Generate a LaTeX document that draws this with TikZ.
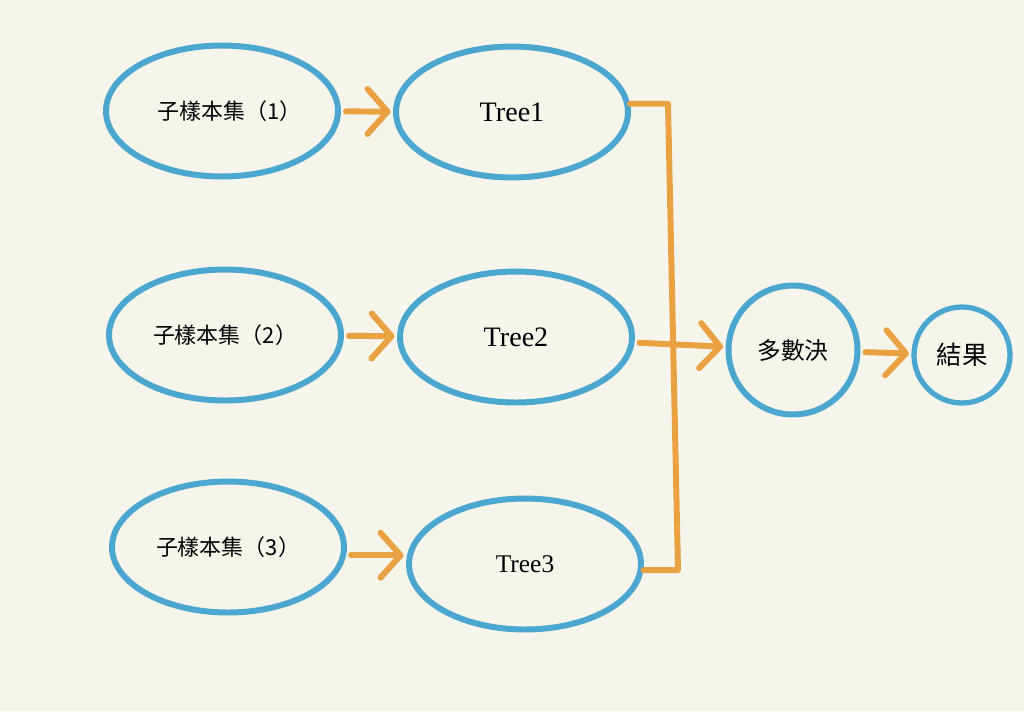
\documentclass[tikz,border=0pt]{standalone}
\usepackage{fontspec}
\setmainfont{Liberation Serif}
\newfontfamily\cjk{Noto Sans CJK TC}
\usetikzlibrary{shapes.geometric,arrows.meta}
\definecolor{ringblue}{RGB}{75,166,208}
\definecolor{arrorange}{RGB}{233,161,66}
\definecolor{paper}{RGB}{245,245,235}
\tikzset{
    oval/.style={ellipse,draw=ringblue,line width=3.4pt,minimum width=4.64cm,minimum height=2.62cm,inner sep=0pt},
    ring/.style={circle,draw=ringblue,line width=3.4pt,inner sep=0pt},
    sample/.style={oval,font=\cjk\fontsize{12.5}{15}\selectfont},
    tree/.style={oval,font=\fontsize{16}{19}\selectfont},
    flow/.style={draw=arrorange,line width=3.4pt,line cap=round,shorten <=0.1cm,shorten >=0.05cm,-{Straight Barb[length=0.4cm,width=0.9cm,round]}},
    link/.style={draw=arrorange,line width=3.4pt,line cap=round,line join=round}
}
\begin{document}
\begin{tikzpicture}[x=0.02cm,y=-0.02cm]
    \fill[paper] (0,0) rectangle (1024,711);
    \useasboundingbox (0,0) rectangle (1024,711);
    \node[sample] (s1) at (222,111) {\hspace{0.3cm}子樣本集（1）};
    \node[sample] (s2) at (225,335) {子樣本集（2）};
    \node[sample] (s3) at (228,547) {子樣本集（3）};
    \node[tree] (t1) at (512,112) {Tree1};
    \node[tree] (t2) at (516,337) {Tree2};
    \node[tree,font=\fontsize{14.5}{17}\selectfont] (t3) at (525,564) {Tree3};
    \node[ring,minimum size=2.58cm,font=\cjk\fontsize{13.5}{16}\selectfont] (vote) at (793,350) {多數決};
    \node[ring,line width=3pt,minimum size=1.92cm,font=\cjk\fontsize{14.5}{17}\selectfont] (res) at (962,355) {結果};
    \coordinate (jt) at (668,107);
    \coordinate (jb) at (678,570);
    \draw[flow] (s1) -- (t1);
    \draw[flow] (s2) -- (t2);
    \draw[flow] (s3.-4) -- (s3.-4 -| t3.west);
    \draw[link] (t1.4) -- (t1.4 -| jt) -- (jb) -- (t3.-3);
    \draw[flow] (t2) -- (vote);
    \draw[flow] (vote) -- (res);
\end{tikzpicture}
\end{document}
